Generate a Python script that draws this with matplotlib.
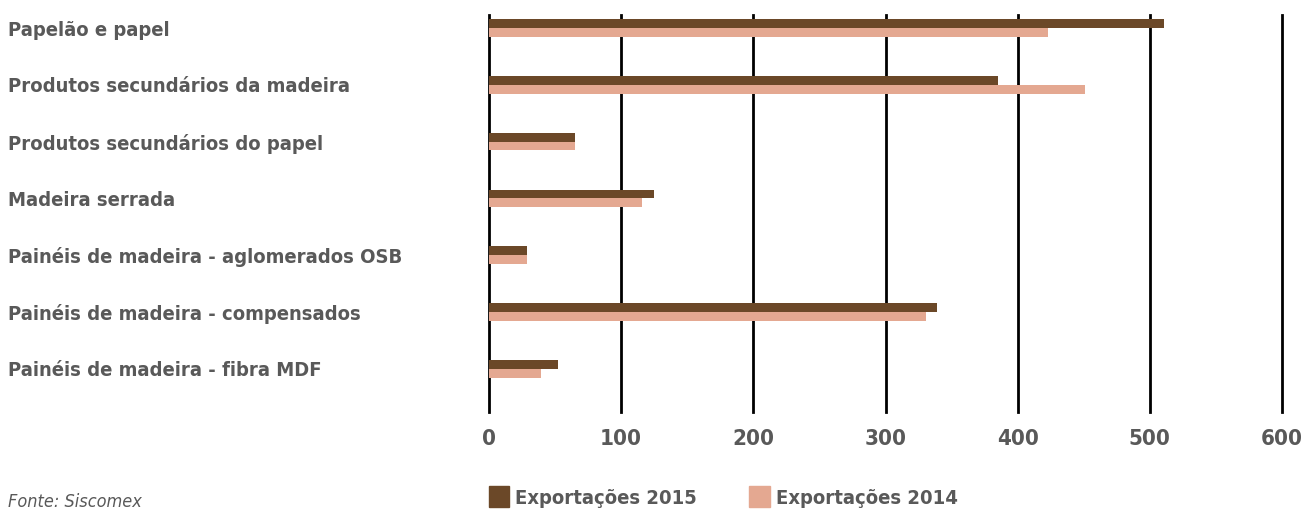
import matplotlib
matplotlib.use('Agg')
import matplotlib.pyplot as plt
import numpy as np
from matplotlib.patches import Patch

categorias = ['Papelão e papel', 'Produtos secundários da madeira', 'Produtos secundários do papel',
              'Madeira serrada', 'Painéis de madeira - aglomerados OSB',
              'Painéis de madeira - compensados', 'Painéis de madeira - fibra MDF']
exp_2015 = [511, 385, 65, 125, 29, 339, 52]
exp_2014 = [423, 451, 65, 116, 29, 331, 39]
ticks_x = [0, 100, 200, 300, 400, 500, 600]
legendas = ['Exportações 2015', 'Exportações 2014']

cor_2015 = '#6B4828'
cor_2014 = '#E4A891'
cinza = '#595959'

plt.rcParams['font.family'] = ['DejaVu Sans']
plt.rcParams['font.stretch'] = 'condensed'

fig = plt.figure(figsize=(13.12, 5.13), dpi=100)
ax = fig.add_axes([489 / 1312, 1 - 412 / 513, (1282 - 489) / 1312, (412 - 15) / 513])

y = np.arange(len(categorias))
h = 0.155
ax.barh(y - h / 2, exp_2015, height=h, color=cor_2015, zorder=3)
ax.barh(y + h / 2, exp_2014, height=h, color=cor_2014, zorder=3)

ax.set_xlim(0, 600)
ax.set_ylim(6.76, -0.23)
ax.set_xticks(ticks_x)
ax.set_xticklabels([str(t) for t in ticks_x])
for t in ticks_x:
    ax.axvline(t, color='black', lw=2, zorder=2, clip_on=False)

ax.set_yticks(y)
ax.set_yticklabels(categorias, ha='left')
ax.tick_params(axis='y', length=0, pad=481 * 72 / 100, labelsize=14.5, labelcolor=cinza)
ax.tick_params(axis='x', length=0, pad=12, labelsize=16, labelcolor=cinza)
for lab in ax.get_yticklabels() + ax.get_xticklabels():
    lab.set_fontweight('bold')
for s in ax.spines.values():
    s.set_visible(False)

handles = [Patch(color=cor_2015), Patch(color=cor_2014)]
leg = fig.legend(handles, legendas, ncol=2, loc='center left', bbox_to_anchor=(471 / 1312, 1 - 497 / 513),
                 frameon=False, handlelength=1.0, handleheight=1.2, handletextpad=0.3, columnspacing=2.6,
                 prop={'size': 14.5, 'weight': 'bold', 'stretch': 'condensed'})
for t in leg.get_texts():
    t.set_color(cinza)

fig.text(8 / 1312, 1 - 502 / 513, 'Fonte: Siscomex', fontsize=13, style='italic', color=cinza, va='center')

fig.savefig('out.png', dpi=100)
